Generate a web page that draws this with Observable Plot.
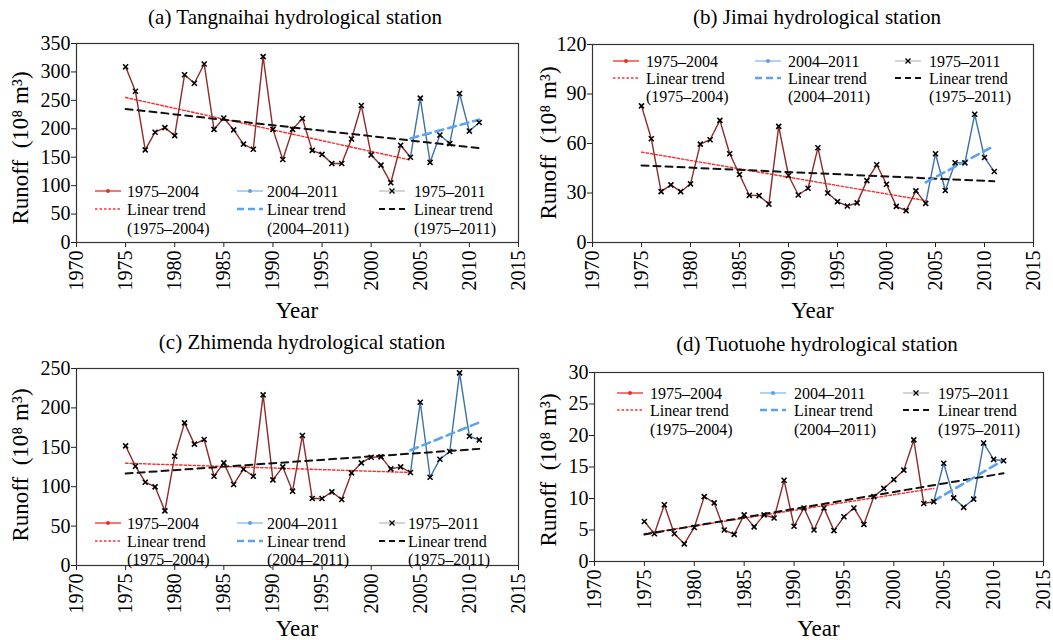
<!DOCTYPE html>
<html><head><meta charset="utf-8">
<script src="https://cdn.jsdelivr.net/npm/d3@7"></script>
<script src="https://cdn.jsdelivr.net/npm/@observablehq/plot@0.6"></script>
<style>
body{margin:0;background:#fff;}
#root{position:relative;width:1053px;height:640px;overflow:hidden;font-family:"Liberation Serif","Times New Roman",serif;}
#root svg{position:absolute;overflow:visible;}
</style></head><body><div id="root"></div>
<script>
const years = [1975,1976,1977,1978,1979,1980,1981,1982,1983,1984,1985,1986,1987,1988,1989,1990,1991,1992,1993,1994,1995,1996,1997,1998,1999,2000,2001,2002,2003,2004,2005,2006,2007,2008,2009,2010,2011];
const tangnaihai = [309,266,163,194,202,188,295,280,314,199,219,198,173,164,327,199,146,199,218,162,155,139,139,182,241,154,136,105,171,150,254,141,189,174,262,196,211];
const jimai = [82.8,62.9,30.8,34.9,30.8,35.5,59.6,62.3,74,53.8,41.2,28.6,28.4,23.3,70.4,40.6,28.8,32.9,57.4,30,24.8,22.1,24,37.5,47.1,35.3,21.9,19.3,31.3,23.7,53.8,31.5,48.3,48.3,77.7,51.5,43];
const zhimenda = [151.8,126,105.7,99.8,69.3,138.7,181,154,159.9,113.3,130.2,102.8,122.2,113.3,216.5,108.6,125.1,94.3,165,85,85,93.4,83.8,117.5,130.2,137.4,137.8,122.6,125.1,118,207.2,112,134.9,144.7,244.4,164,159.4];
const tuotuohe = [6.35,4.4,9.0,4.4,2.8,5.4,10.3,9.3,5.0,4.3,7.4,5.5,7.4,6.9,12.9,5.6,8.5,5.0,8.5,4.9,7.1,8.5,5.9,10.3,11.6,13.0,14.5,19.3,9.2,9.5,15.6,10.1,8.6,9.9,18.8,16.2,16.0];

// trend line endpoints
const trendYearsEarly = [1975, 2004];
const trendYearsLate = [2004, 2011];
const trendYearsAll = [1975, 2011];
const tangTrendEarly = [255, 145], tangTrendLate = [183, 216], tangTrendAll = [235, 166];
const jimaiTrendEarly = [54.8, 25.4], jimaiTrendLate = [36.5, 58.6], jimaiTrendAll = [46.7, 37.1];
const zhimTrendEarly = [129.8, 118], zhimTrendLate = [146.3, 181.5], zhimTrendAll = [116.7, 148];
const tuoTrendEarly = [4.4, 11.6], tuoTrendLate = [9.6, 16.1], tuoTrendAll = [4.3, 14.0];

const xTicks = [1970,1975,1980,1985,1990,1995,2000,2005,2010,2015];
const yTicksA = [0,50,100,150,200,250,300,350];
const yTicksB = [0,30,60,90,120];
const yTicksC = [0,50,100,150,200,250];
const yTicksD = [0,5,10,15,20,25,30];

const titles = ["(a) Tangnaihai hydrological station","(b) Jimai hydrological station","(c) Zhimenda hydrological station","(d) Tuotuohe hydrological station"];
const seriesLabels = ["1975–2004","2004–2011","1975–2011"];
const trendLabel = "Linear trend";
const periodLabels = ["(1975–2004)","(2004–2011)","(1975–2011)"];
const yLabel = "Runoff  (10⁸ m³)";
const xLabel = "Year";

const FONT = '"Liberation Serif","Times New Roman",serif';

const panels = [
  {values:tangnaihai, tE:tangTrendEarly, tL:tangTrendLate, tA:tangTrendAll, yDomain:[0,350], yTicks:yTicksA,
   left:0, top:0, w:530, h:320, m:[43,12,78,76], rows:[191,209,228], sx:[95,237,379], tx:[127,267,414],
   yl:[20,148], title:[295,24], year:318},
  {values:jimai, tE:jimaiTrendEarly, tL:jimaiTrendLate, tA:jimaiTrendAll, yDomain:[0,120], yTicks:yTicksB,
   left:530, top:0, w:523, h:320, m:[44,20,78,62], rows:[61,78,96], sx:[83,225,365], tx:[116,258,399],
   yl:[18,143], title:[287,24], year:318},
  {values:zhimenda, tE:zhimTrendEarly, tL:zhimTrendLate, tA:zhimTrendAll, yDomain:[0,250], yTicks:yTicksC,
   left:0, top:320, w:530, h:320, m:[48,12,75,76], rows:[203,221,239], sx:[95,237,379], tx:[127,267,408],
   yl:[20,145], title:[302,29], year:316},
  {values:tuotuohe, tE:tuoTrendEarly, tL:tuoTrendLate, tA:tuoTrendAll, yDomain:[0,30], yTicks:yTicksD,
   left:530, top:320, w:523, h:320, m:[52,10,79,64], rows:[73,90,109], sx:[87,230,373], tx:[120,264,408],
   yl:[18,150], title:[287,31], year:316}
];

const root = document.getElementById("root");

panels.forEach((p, k) => {
  const rows = years.map((year, i) => ({year, value: p.values[i]}));
  const early = rows.filter(d => d.year <= 2004);
  const late = rows.filter(d => d.year >= 2004);
  const tr = (ys, vs) => ys.map((y, i) => ({year: y, value: vs[i]}));
  const svg = Plot.plot({
    width: p.w, height: p.h,
    marginTop: p.m[0], marginRight: p.m[1], marginBottom: p.m[2], marginLeft: p.m[3],
    x: {domain: [1970, 2015]},
    y: {domain: p.yDomain},
    style: {fontFamily: FONT, fontSize: "19px", color: "#000", background: "transparent", overflow: "visible"},
    marks: [
      Plot.axisX({ticks: xTicks, tickFormat: d => String(d), tickRotate: -90, tickSize: 5, tickPadding: 3, fontSize: 20, label: null, stroke: "#222"}),
      Plot.axisY({ticks: p.yTicks, tickSize: 5, tickPadding: 1, fontSize: 20, label: null, stroke: "#222"}),
      Plot.line(tr(trendYearsEarly, p.tE), {x: "year", y: "value", stroke: "#ff2a2a", strokeWidth: 1.4, strokeDasharray: "2.5,2"}),
      Plot.line(early, {x: "year", y: "value", stroke: "#8e2a2a", strokeWidth: 1.4}),
      Plot.line(late, {x: "year", y: "value", stroke: "#3c70a6", strokeWidth: 1.4}),
      Plot.line(tr(trendYearsAll, p.tA), {x: "year", y: "value", stroke: "#111", strokeWidth: 2, strokeDasharray: "7,5"}),
      Plot.line(tr(trendYearsLate, p.tL), {x: "year", y: "value", stroke: "#5aa2f2", strokeWidth: 2.6, strokeDasharray: "8,5"}),
      Plot.dot(rows, {x: "year", y: "value", symbol: "times", r: 2.4, stroke: "#000", strokeWidth: 1.6}),
      Plot.frame({stroke: "#333", strokeWidth: 1.2})
    ]
  });
  svg.style.left = p.left + "px";
  svg.style.top = p.top + "px";
  root.appendChild(svg);

  const g = d3.select(svg).append("g").attr("font-family", FONT).attr("fill", "#000").attr("text-anchor", "start");
  // title
  g.append("text").attr("x", p.title[0]).attr("y", p.title[1]).attr("text-anchor", "middle")
    .attr("font-size", 21).text(titles[k]);
  // y label
  g.append("text").attr("transform", `translate(${p.yl[0]},${p.yl[1]}) rotate(-90)`)
    .attr("text-anchor", "middle").attr("dy", "0.35em").attr("font-size", 23).text(yLabel);
  // x label
  const cx = p.m[3] + (p.w - p.m[3] - p.m[1]) / 2;
  g.append("text").attr("x", cx).attr("y", p.year).attr("text-anchor", "middle")
    .attr("font-size", 23).text(xLabel);

  // legend
  const lg = g.append("g").attr("font-size", 16).attr("text-anchor", "start");
  const symW = 26;
  const series = [
    {stroke: "#e8302a", w: 1.3, marker: "dot", mc: "#e8302a"},
    {stroke: "#86b8ee", w: 1.3, marker: "dot", mc: "#5e9ee6"},
    {stroke: "#aaaaaa", w: 1, marker: "x", mc: "#000"}
  ];
  const trends = [
    {stroke: "#ff3030", w: 1.3, dash: "2.5,2"},
    {stroke: "#5aa2f2", w: 2.4, dash: "7,4"},
    {stroke: "#111", w: 2, dash: "6,4"}
  ];
  for (let c = 0; c < 3; c++) {
    const sx = p.sx[c], tx = p.tx[c];
    const s = series[c];
    lg.append("line").attr("x1", sx).attr("x2", sx + symW).attr("y1", p.rows[0]).attr("y2", p.rows[0])
      .attr("stroke", s.stroke).attr("stroke-width", s.w);
    const mx = sx + symW / 2, my = p.rows[0];
    if (s.marker === "dot") {
      lg.append("circle").attr("cx", mx).attr("cy", my).attr("r", 2).attr("fill", s.mc);
    } else {
      lg.append("path").attr("d", `M${mx-2.5},${my-2.5}L${mx+2.5},${my+2.5}M${mx-2.5},${my+2.5}L${mx+2.5},${my-2.5}`)
        .attr("stroke", s.mc).attr("stroke-width", 1.4);
    }
    const t = trends[c];
    lg.append("line").attr("x1", sx).attr("x2", sx + symW).attr("y1", p.rows[1]).attr("y2", p.rows[1])
      .attr("stroke", t.stroke).attr("stroke-width", t.w).attr("stroke-dasharray", t.dash);
    lg.append("text").attr("x", tx).attr("y", p.rows[0]).attr("dy", "0.35em").text(seriesLabels[c]);
    lg.append("text").attr("x", tx).attr("y", p.rows[1]).attr("dy", "0.35em").text(trendLabel);
    lg.append("text").attr("x", tx).attr("y", p.rows[2]).attr("dy", "0.35em").text(periodLabels[c]);
  }
});
</script>
</body></html>
